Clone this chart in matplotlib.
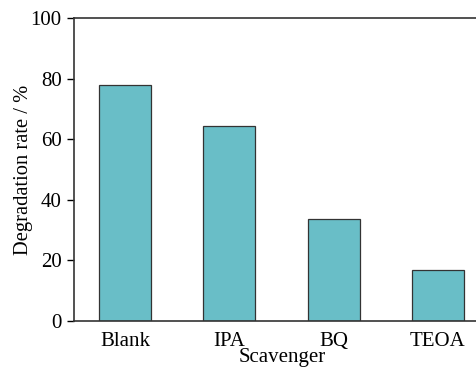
import matplotlib.pyplot as plt

plt.rcParams['font.family'] = ['Liberation Serif', 'DejaVu Serif']

categories = ['Blank', 'IPA', 'BQ', 'TEOA']
rates = [77.8, 64.2, 33.8, 16.8]

fig = plt.figure(figsize=(4.77, 3.69), dpi=100)
# axes run past the right edge, like in the source image
ax = fig.add_axes([74 / 477, 48 / 369, (490 - 74) / 477, (321 - 18) / 369])

x = range(len(categories))
ax.bar(x, rates, width=0.5, color='#69BEC7', edgecolor='#333333', linewidth=0.9)

ax.set_xlim(-0.49, 3.5)
ax.set_ylim(0, 100)
ax.set_yticks([0, 20, 40, 60, 80, 100])
ax.set_xticks(list(x))
ax.set_xticklabels(categories)
ax.tick_params(axis='x', length=0, labelsize=15, pad=8)
ax.tick_params(axis='y', direction='out', length=5, width=1, labelsize=15, pad=4)
for s in ax.spines.values():
    s.set_linewidth(1.2)
    s.set_color('#333333')
ax.spines['right'].set_visible(False)

ax.set_xlabel('Scavenger', fontsize=15, labelpad=-2)
ax.set_ylabel('Degradation rate / %', fontsize=14.8, labelpad=-2)

fig.savefig('out.png', dpi=100)
